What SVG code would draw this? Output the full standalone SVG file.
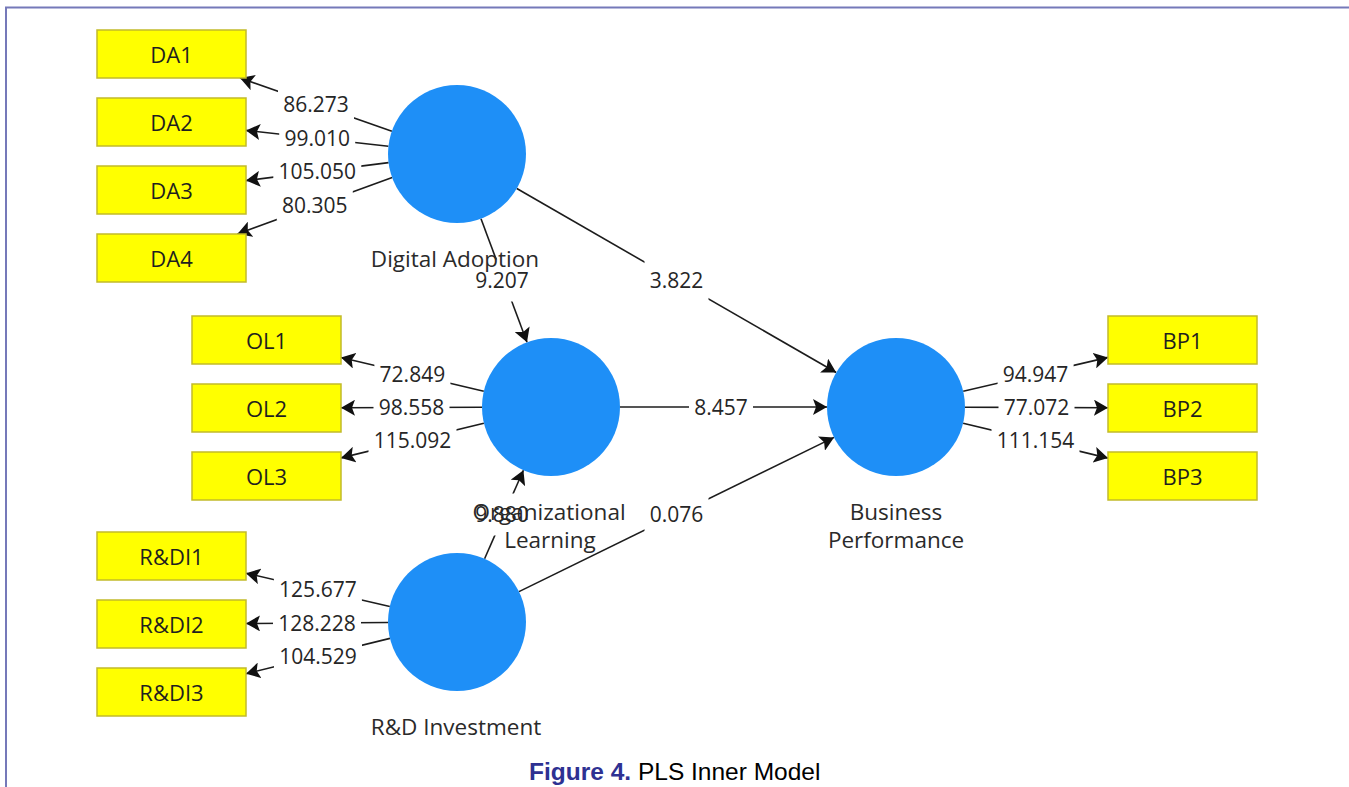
<svg xmlns="http://www.w3.org/2000/svg" width="1349" height="787" viewBox="0 0 1349 787">
<defs>
<style>
.box{fill:#ffff00;stroke:#c2bb2a;stroke-width:1.5}
.lv{fill:#1e8ff7}
.bt{font-family:"Open Sans","Noto Sans",sans-serif;font-size:22px;fill:#1f1f1f;text-anchor:middle}
.ct{font-family:"Open Sans","Noto Sans",sans-serif;font-size:22.5px;fill:#2a2a2a;text-anchor:middle}
.nt{font-family:"Open Sans","Noto Sans",sans-serif;font-size:21px;fill:#262626;text-anchor:middle}
.cn{fill:none;stroke:#1c1c1c;stroke-width:1.6;marker-end:url(#ah)}
.bg{fill:#ffffff}
.frame{stroke:#7579b9;stroke-width:2;fill:none}
</style>
<marker id="ah" viewBox="0 0 14 16" refX="14" refY="8" markerWidth="14" markerHeight="16" markerUnits="userSpaceOnUse" orient="auto">
<path d="M0,0 L14,8 L0,16 L3,8 z" fill="#111111"/>
</marker>
</defs>
<rect x="0" y="0" width="1349" height="787" fill="#ffffff"/>
<path class="frame" d="M6,787 L6,7.5 L1349,7.5"/>

<g id="connectors">
<path class="cn" d="M391.9,131.2 L240,78"/>
<path class="cn" d="M388.4,146.3 L246,130.4"/>
<path class="cn" d="M388.6,162.6 L246,180.6"/>
<path class="cn" d="M392.2,177.6 L237.4,234"/>
<path class="cn" d="M483.8,391.2 L341,357.5"/>
<path class="cn" d="M482,407.3 L341,407.8"/>
<path class="cn" d="M483.9,423.3 L341,457.9"/>
<path class="cn" d="M389.8,606.5 L246,573.2"/>
<path class="cn" d="M388,622.5 L246,623.5"/>
<path class="cn" d="M390,638.4 L246,673.7"/>
<path class="cn" d="M963.2,391.3 L1108,357.4"/>
<path class="cn" d="M965,407.2 L1108,407.7"/>
<path class="cn" d="M963.1,423.2 L1108,458.1"/>
<path class="cn" d="M481,218.7 L527,342.3"/>
<path class="cn" d="M516.8,188.5 L836.2,372.5"/>
<path class="cn" d="M620,407 L827,407"/>
<path class="cn" d="M484.6,558.8 L523.4,470.2"/>
<path class="cn" d="M519,591.6 L834,437.4"/>
<g id="label-backgrounds">
<rect class="bg" x="278" y="89.6" width="76" height="30"/>
<rect class="bg" x="279.2" y="123.4" width="76" height="30"/>
<rect class="bg" x="273.3" y="156.6" width="88" height="30"/>
<rect class="bg" x="276.8" y="190.8" width="76" height="30"/>
<rect class="bg" x="374.4" y="359.4" width="76" height="30"/>
<rect class="bg" x="373.5" y="392.5" width="76" height="30"/>
<rect class="bg" x="368.5" y="425.6" width="88" height="30"/>
<rect class="bg" x="273.9" y="574.9" width="88" height="30"/>
<rect class="bg" x="273" y="608" width="88" height="30"/>
<rect class="bg" x="274" y="641" width="88" height="30"/>
<rect class="bg" x="997.6" y="359.3" width="76" height="30"/>
<rect class="bg" x="998.5" y="392.5" width="76" height="30"/>
<rect class="bg" x="991.5" y="425.6" width="88" height="30"/>
<rect class="bg" x="470" y="259.5" width="64" height="42"/>
<rect class="bg" x="644.5" y="259.5" width="64" height="42"/>
<rect class="bg" x="689" y="386" width="64" height="42"/>
<rect class="bg" x="470" y="493.5" width="64" height="42"/>
<rect class="bg" x="644.5" y="493.5" width="64" height="42"/>
</g>
</g>

<g id="DA">
<circle class="lv" cx="457" cy="154" r="69"/>
<text class="ct" x="455" y="267">Digital Adoption</text>
</g>
<g id="OL">
<circle class="lv" cx="551" cy="407" r="69"/>
<text class="ct" x="549" y="520">Organizational</text>
<text class="ct" x="550" y="548">Learning</text>
</g>
<g id="RD">
<circle class="lv" cx="457" cy="622" r="69"/>
<text class="ct" x="456" y="735">R&amp;D Investment</text>
</g>
<g id="BP">
<circle class="lv" cx="896" cy="407" r="69"/>
<text class="ct" x="896" y="520">Business</text>
<text class="ct" x="896" y="548">Performance</text>
</g>

<g id="DA1"><rect class="box" x="97" y="30" width="149" height="48"/><text class="bt" x="171.5" y="62.5">DA1</text></g>
<g id="DA2"><rect class="box" x="97" y="98" width="149" height="48"/><text class="bt" x="171.5" y="130.5">DA2</text></g>
<g id="DA3"><rect class="box" x="97" y="166" width="149" height="48"/><text class="bt" x="171.5" y="198.5">DA3</text></g>
<g id="DA4"><rect class="box" x="97" y="234" width="149" height="48"/><text class="bt" x="171.5" y="266.5">DA4</text></g>
<g id="OL1"><rect class="box" x="192" y="316" width="149" height="48"/><text class="bt" x="266.5" y="348.5">OL1</text></g>
<g id="OL2"><rect class="box" x="192" y="384" width="149" height="48"/><text class="bt" x="266.5" y="416.5">OL2</text></g>
<g id="OL3"><rect class="box" x="192" y="452" width="149" height="48"/><text class="bt" x="266.5" y="484.5">OL3</text></g>
<g id="RDI1"><rect class="box" x="97" y="532" width="149" height="48"/><text class="bt" x="171.5" y="564.5">R&amp;DI1</text></g>
<g id="RDI2"><rect class="box" x="97" y="600" width="149" height="48"/><text class="bt" x="171.5" y="632.5">R&amp;DI2</text></g>
<g id="RDI3"><rect class="box" x="97" y="668" width="149" height="48"/><text class="bt" x="171.5" y="700.5">R&amp;DI3</text></g>
<g id="BP1"><rect class="box" x="1108" y="316" width="149" height="48"/><text class="bt" x="1182.5" y="348.5">BP1</text></g>
<g id="BP2"><rect class="box" x="1108" y="384" width="149" height="48"/><text class="bt" x="1182.5" y="416.5">BP2</text></g>
<g id="BP3"><rect class="box" x="1108" y="452" width="149" height="48"/><text class="bt" x="1182.5" y="484.5">BP3</text></g>

<g id="connector-labels">
<text class="nt" x="316" y="112.1">86.273</text>
<text class="nt" x="317.2" y="145.9">99.010</text>
<text class="nt" x="317.3" y="179.1">105.050</text>
<text class="nt" x="314.8" y="213.3">80.305</text>
<text class="nt" x="412.4" y="381.9">72.849</text>
<text class="nt" x="411.5" y="415">98.558</text>
<text class="nt" x="412.5" y="448.1">115.092</text>
<text class="nt" x="317.9" y="597.4">125.677</text>
<text class="nt" x="317" y="630.5">128.228</text>
<text class="nt" x="318" y="663.5">104.529</text>
<text class="nt" x="1035.6" y="381.8">94.947</text>
<text class="nt" x="1036.5" y="415">77.072</text>
<text class="nt" x="1035.5" y="448.1">111.154</text>
<text class="nt" x="502" y="288">9.207</text>
<text class="nt" x="676.5" y="288">3.822</text>
<text class="nt" x="721" y="414.5">8.457</text>
<text class="nt" x="502" y="522">9.880</text>
<text class="nt" x="676.5" y="522">0.076</text>
</g>

<text x="529" y="780" font-family="'Liberation Sans',Arial,sans-serif" font-size="24.5"><tspan font-weight="bold" fill="#2e3192">Figure 4.</tspan><tspan fill="#000000"> PLS Inner Model</tspan></text>
</svg>
